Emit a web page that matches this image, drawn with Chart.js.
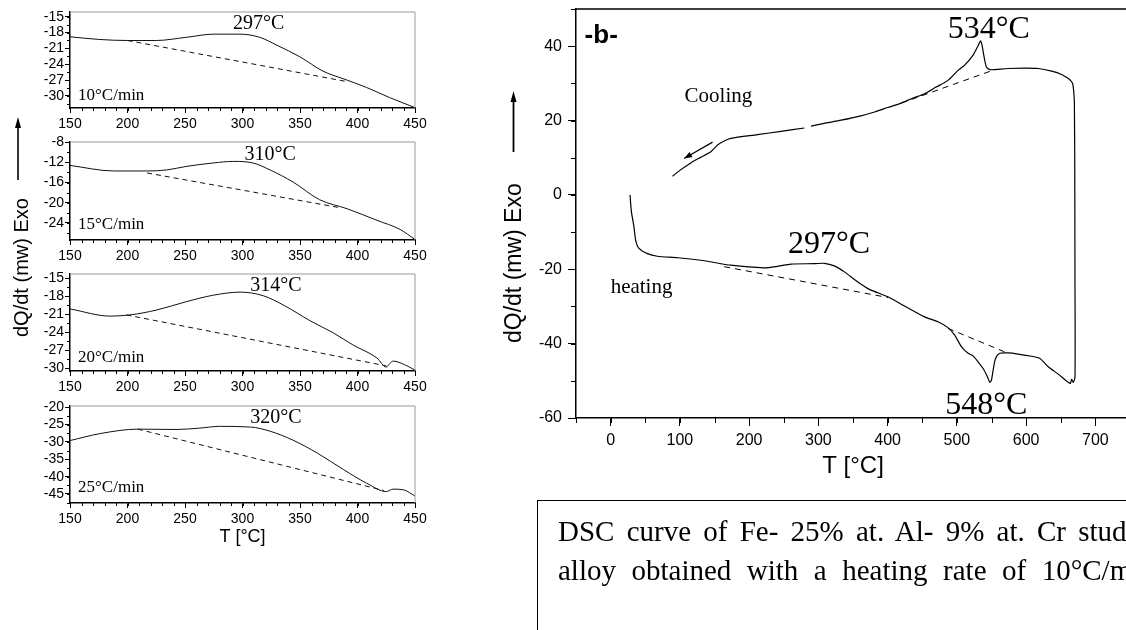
<!DOCTYPE html>
<html>
<head>
<meta charset="utf-8">
<script src="https://cdn.jsdelivr.net/npm/chart.js@4.4.1/dist/chart.umd.min.js"></script>
<style>
  html, body { margin: 0; padding: 0; background: #fff; width: 1126px; height: 630px; overflow: hidden; position: relative; }
  canvas { position: absolute; }
  .ytitle { position: absolute; white-space: nowrap; font-family: "Liberation Sans", Arial, sans-serif; transform: rotate(-90deg); transform-origin: left top; color: #000; }
  #caption { position: absolute; left: 537px; top: 500px; width: 640px; height: 200px; box-sizing: border-box;
             border-top: 1.5px solid #000; border-left: 1.5px solid #000; padding: 11px 0 0 20px; }
  #caption p { margin: 0; width: 604px; font: 29px/39px "Liberation Serif", "Times New Roman", serif;
               text-align: justify; text-align-last: justify; color: #000; }
</style>
</head>
<body>
<canvas id="p10" width="440" height="136" style="left:0;top:2px"></canvas>
<canvas id="p15" width="440" height="138" style="left:0;top:132px"></canvas>
<canvas id="p20" width="440" height="137" style="left:0;top:264px"></canvas>
<canvas id="p25" width="440" height="155" style="left:0;top:396px"></canvas>
<canvas id="main" width="660" height="496" style="left:480px;top:-8px"></canvas>

<div class="ytitle" style="left:11px;top:337px;font-size:20px;line-height:20px">dQ/dt (mw) Exo</div>
<div class="ytitle" style="left:502px;top:343px;font-size:23px;line-height:23px">dQ/dt (mw) Exo</div>
<svg style="position:absolute;left:0;top:0" width="1126" height="630">
  <line x1="18" y1="126" x2="18" y2="180" stroke="#000" stroke-width="1.6"/>
  <polygon points="18,117 15,128 21,128" fill="#000"/>
  <line x1="513.5" y1="100" x2="513.5" y2="152" stroke="#000" stroke-width="1.8"/>
  <polygon points="513.5,91 510.5,102 516.5,102" fill="#000"/>
</svg>

<div id="caption"><p>DSC curve of Fe- 25% at. Al- 9% at. Cr studied alloy obtained with a heating rate of 10°C/min.</p></div>

<script>
// ---- left panels: heating rates 10, 15, 20, 25 °C/min ----
const rates = ['10°C/min', '15°C/min', '20°C/min', '25°C/min'];
const peaks = ['297°C', '310°C', '314°C', '320°C'];
const smallXTicks = [150, 200, 250, 300, 350, 400, 450];

const t10 = [150, 175, 200, 225, 251, 275, 298, 315, 330, 350, 370, 391, 408, 428, 450];
const q10 = [-18.8, -19.3, -19.5, -19.5, -18.9, -18.3, -18.3, -18.9, -20.4, -22.6, -25.3, -27.0, -28.4, -30.3, -32.2];
const b10T = [200, 389];
const b10Q = [-19.5, -27.2];
const y10Ticks = [-30, -27, -24, -21, -18, -15];

const t15 = [150, 188, 217, 234, 251, 275, 292, 309, 324, 344, 367, 391, 417, 437, 450];
const q15 = [-12.6, -13.7, -13.7, -13.5, -12.8, -12.1, -11.8, -12.1, -13.5, -15.9, -19.4, -21.2, -23.5, -25.3, -27.3];
const b15T = [217, 385];
const b15Q = [-14.1, -21.0];
const y15Ticks = [-24, -20, -16, -12, -8];

const t20 = [150, 185, 202, 225, 251, 275, 298, 318, 336, 359, 379, 396, 417, 425, 428, 431, 441, 450];
const q20 = [-20.1, -21.3, -21.1, -20.3, -18.9, -17.8, -17.3, -17.9, -19.5, -22.1, -24.1, -26.1, -28.3, -29.8, -29.2, -28.8, -29.4, -30.3];
const b20T = [199, 425];
const b20Q = [-21.1, -29.6];
const y20Ticks = [-30, -27, -24, -21, -18, -15];

const t25 = [150, 176, 209, 243, 263, 280, 307, 324, 344, 365, 388, 408, 425, 431, 440, 450];
const q25 = [-29.6, -27.6, -26.3, -26.4, -26.0, -25.5, -25.7, -26.9, -29.5, -33.2, -38.0, -41.9, -44.3, -43.6, -43.8, -45.6];
const b25T = [209, 423];
const b25Q = [-26.3, -44.0];
const y25Ticks = [-45, -40, -35, -30, -25, -20];

// y ranges and minor steps of the small panels
const yMin = [-32.27, -27.4, -30.45, -47.6];
const yMax = [-14.11, -7.95, -14.28, -19.63];
const yMinor = [1.5, 2, 1.5, 2.5];

// ---- panel b: heating then cooling at 10 °C/min ----
const mainXTicks = [0, 100, 200, 300, 400, 500, 600, 700];
const mainYTicks = [-60, -40, -20, 0, 20, 40];

const heatT = [28, 30, 33.7, 36.2, 41, 53, 67.5, 96.5, 135, 173.6, 221.9, 241.2, 260.5, 294.3, 308.7, 323, 337.6, 357, 373.8, 400.4,
               424.5, 453.4, 472.7, 487.2, 496.8, 506.5, 516.2, 523.4, 530.6, 537.9, 544.1, 547.6, 549.9, 552.4, 555.8, 562, 574,
               588.5, 607.8, 619.9, 631.9, 646.4, 663.4, 665.8, 668.2, 670.6, 670.5, 670.2, 669.8];
const heatQ = [0, -4.5, -8.6, -12.2, -14.4, -15.8, -16.5, -16.9, -17.7, -18.9, -19.6, -19.2, -18.6, -18.5, -18.4, -19.1, -20.7, -23.4, -25.4, -27.4,
               -29.9, -32.8, -34.1, -35.7, -37.7, -40.8, -42.6, -43.3, -44.9, -46.7, -48.9, -50.4, -49.8, -47.1, -44.0, -42.6, -42.5,
               -42.8, -43.4, -44.0, -46.2, -48.2, -50.7, -49.6, -50.4, -48.9, -20, 10, 22];
const coolT = [669.8, 669.6, 668.5, 667.2, 664, 660.9, 651.3, 636.8, 617.5, 598.2, 574, 554.8, 547.6, 542.7, 539.3, 536.4, 534.5, 533.1,
               529.7, 523.4, 511.3, 501.7, 487.2, 470, 453.4, 436, 419.6, 400, 381, 360, 332.9, 310, 289.4, 284.5, 279.7, 246, 212.2,
               173.7, 164, 154.4, 144.7, 130, 115.8, 100, 89.3];
const coolQ = [22, 25.4, 28.2, 29.9, 30.8, 31.3, 32.4, 33.3, 34.0, 34.1, 34.0, 33.7, 33.7, 34.4, 37.1, 40.2, 41.4, 41.1,
               39.8, 37.6, 34.9, 33.5, 30.8, 29.0, 27.2, 26.0, 24.7, 23.5, 22.3, 21.2, 20.1, 19.3, 18.5, null, 18.0, 17.1, 16.2,
               15.2, 14.5, 13.4, 11.6, 10.1, 8.6, 6.6, 5.0];
const base1T = [164, 400.4];
const base1Q = [-19.3, -27.6];
const base2T = [487.2, 574];
const base2Q = [-35.9, -42.6];
const base3T = [419.6, 554.8];
const base3Q = [24.7, 33.7];

Chart.defaults.font.family = '"Liberation Sans", Arial, sans-serif';
Chart.defaults.color = '#000';

function pts(T, Q) {
  return T.map((t, i) => ({ x: t, y: Q[i] }));
}

function fixedTicks(arr) {
  return s => { s.ticks = arr.map(v => ({ value: v })); };
}

// frame, minor ticks, text notes and arrows
const decor = {
  id: 'decor',
  afterDraw(chart, args, o) {
    const { ctx, chartArea: a, scales: { x, y } } = chart;
    ctx.save();
    ctx.strokeStyle = o.frameColor;
    ctx.lineWidth = o.frameWidth;
    ctx.beginPath();
    ctx.moveTo(a.left, a.top);
    ctx.lineTo(a.right, a.top);
    ctx.lineTo(a.right, a.bottom);
    ctx.stroke();

    ctx.strokeStyle = '#000';
    ctx.lineWidth = 1;
    ctx.beginPath();
    for (let v = Math.ceil(x.min / o.minorX) * o.minorX; v <= x.max + 1e-6; v += o.minorX) {
      const px = Math.round(x.getPixelForValue(v)) + 0.5;
      ctx.moveTo(px, a.bottom);
      ctx.lineTo(px, a.bottom + o.minorLen);
    }
    for (let v = Math.ceil(y.min / o.minorY) * o.minorY; v <= y.max + 1e-6; v += o.minorY) {
      const py = Math.round(y.getPixelForValue(v)) + 0.5;
      ctx.moveTo(a.left - o.minorLen, py);
      ctx.lineTo(a.left, py);
    }
    ctx.stroke();

    ctx.fillStyle = '#000';
    ctx.textBaseline = 'alphabetic';
    for (const n of o.notes || []) {
      ctx.font = n.font;
      ctx.textAlign = n.align || 'center';
      ctx.fillText(n.text, x.getPixelForValue(n.x), y.getPixelForValue(n.y));
    }

    for (const ar of o.arrows || []) {
      const x1 = x.getPixelForValue(ar.x1), y1 = y.getPixelForValue(ar.y1);
      const x2 = x.getPixelForValue(ar.x2), y2 = y.getPixelForValue(ar.y2);
      const ang = Math.atan2(y2 - y1, x2 - x1);
      ctx.lineWidth = 1.2;
      ctx.beginPath();
      ctx.moveTo(x1, y1);
      ctx.lineTo(x2, y2);
      ctx.stroke();
      ctx.beginPath();
      ctx.moveTo(x2, y2);
      ctx.lineTo(x2 - 8 * Math.cos(ang) + 3 * Math.sin(ang), y2 - 8 * Math.sin(ang) - 3 * Math.cos(ang));
      ctx.lineTo(x2 - 8 * Math.cos(ang) - 3 * Math.sin(ang), y2 - 8 * Math.sin(ang) + 3 * Math.cos(ang));
      ctx.closePath();
      ctx.fill();
    }
    ctx.restore();
  }
};

const serif = '"Liberation Serif", "Times New Roman", serif';

function smallPanel(id, i, T, Q, bT, bQ, yTicks, peakX, peakY, rateY, last) {
  new Chart(document.getElementById(id), {
    type: 'line',
    data: {
      datasets: [
        { data: pts(T, Q), borderColor: '#111', borderWidth: 1, pointRadius: 0, cubicInterpolationMode: 'monotone' },
        { data: pts(bT, bQ), borderColor: '#111', borderWidth: 1, borderDash: [5, 4], pointRadius: 0 }
      ]
    },
    options: {
      responsive: false,
      animation: false,
      events: [],
      layout: { padding: { top: 10, right: 25, left: 0, bottom: 0 } },
      plugins: {
        legend: { display: false },
        tooltip: { enabled: false },
        decor: {
          frameColor: '#999', frameWidth: 1, minorX: 10, minorY: yMinor[i], minorLen: 3,
          notes: [
            { text: peaks[i], x: peakX, y: peakY, font: '20px ' + serif },
            { text: rates[i], x: 157, y: rateY, font: '17px ' + serif, align: 'left' }
          ]
        }
      },
      scales: {
        x: {
          type: 'linear', min: 150, max: 450,
          afterBuildTicks: fixedTicks(smallXTicks),
          afterFit: s => { s.height = last ? 48 : 30; },
          border: { color: '#000', width: 1.5 },
          grid: { drawOnChartArea: false, tickLength: 5, tickColor: '#000' },
          ticks: { padding: 3, maxRotation: 0, autoSkip: false, font: { size: 14 } },
          title: { display: last, text: 'T [°C]', font: { size: 18 }, padding: { top: 0, bottom: 3 } }
        },
        y: {
          min: yMin[i], max: yMax[i],
          afterBuildTicks: fixedTicks(yTicks),
          afterFit: s => { s.width = 70; },
          border: { color: '#000', width: 1.5 },
          grid: { drawOnChartArea: false, tickLength: 5, tickColor: '#000' },
          ticks: { padding: 1, autoSkip: false, font: { size: 14 } }
        }
      }
    },
    plugins: [decor]
  });
}

smallPanel('p10', 0, t10, q10, b10T, b10Q, y10Ticks, 314, -17.4, -30.8, false);
smallPanel('p15', 1, t15, q15, b15T, b15Q, y15Ticks, 324, -11.6, -25.3, false);
smallPanel('p20', 2, t20, q20, b20T, b20Q, y20Ticks, 329, -17.1, -29.0, false);
smallPanel('p25', 3, t25, q25, b25T, b25Q, y25Ticks, 329, -24.4, -44.3, true);

new Chart(document.getElementById('main'), {
  type: 'line',
  data: {
    datasets: [
      { data: pts(heatT, heatQ), borderColor: '#000', borderWidth: 1.2, pointRadius: 0, tension: 0.25 },
      { data: pts(coolT, coolQ), borderColor: '#000', borderWidth: 1.2, pointRadius: 0, tension: 0.25, spanGaps: false },
      { data: pts(base1T, base1Q), borderColor: '#000', borderWidth: 1, borderDash: [6, 5], pointRadius: 0 },
      { data: pts(base2T, base2Q), borderColor: '#000', borderWidth: 1, borderDash: [6, 5], pointRadius: 0 },
      { data: pts(base3T, base3Q), borderColor: '#000', borderWidth: 1, borderDash: [6, 5], pointRadius: 0 }
    ]
  },
  options: {
    responsive: false,
    animation: false,
    events: [],
    layout: { padding: { top: 17, right: 10, left: 0, bottom: 0 } },
    plugins: {
      legend: { display: false },
      tooltip: { enabled: false },
      decor: {
        frameColor: '#000', frameWidth: 1.5, minorX: 50, minorY: 10, minorLen: 5,
        notes: [
          { text: '-b-', x: -37.6, y: 40.9, font: 'bold 26px "Liberation Sans", Arial, sans-serif', align: 'left' },
          { text: '534°C', x: 546, y: 42.2, font: '32px ' + serif },
          { text: '297°C', x: 315.5, y: -15.5, font: '32px ' + serif },
          { text: '548°C', x: 542.4, y: -58.95, font: '32px ' + serif },
          { text: 'Cooling', x: 155.6, y: 25.0, font: '21px ' + serif },
          { text: 'heating', x: 0, y: -26.3, font: '21px ' + serif, align: 'left' }
        ],
        arrows: [{ x1: 147.2, y1: 14.2, x2: 106.1, y2: 9.8 }]
      }
    },
    scales: {
      x: {
        type: 'linear', min: -50, max: 750,
        afterBuildTicks: fixedTicks(mainXTicks),
        afterFit: s => { s.height = 70; },
        border: { color: '#000', width: 1.5 },
        grid: { drawOnChartArea: false, tickLength: 8, tickColor: '#000' },
        ticks: { padding: 5, maxRotation: 0, autoSkip: false, font: { size: 16 } },
        title: { display: true, text: 'T [°C]', font: { size: 24 }, padding: { top: 0, bottom: 7 } }
      },
      y: {
        min: -60, max: 50,
        afterBuildTicks: fixedTicks(mainYTicks),
        afterFit: s => { s.width = 96; },
        border: { color: '#000', width: 1.5 },
        grid: { drawOnChartArea: false, tickLength: 8, tickColor: '#000' },
        ticks: { padding: 6, autoSkip: false, font: { size: 16 } }
      }
    }
  },
  plugins: [decor]
});
</script>
</body>
</html>
